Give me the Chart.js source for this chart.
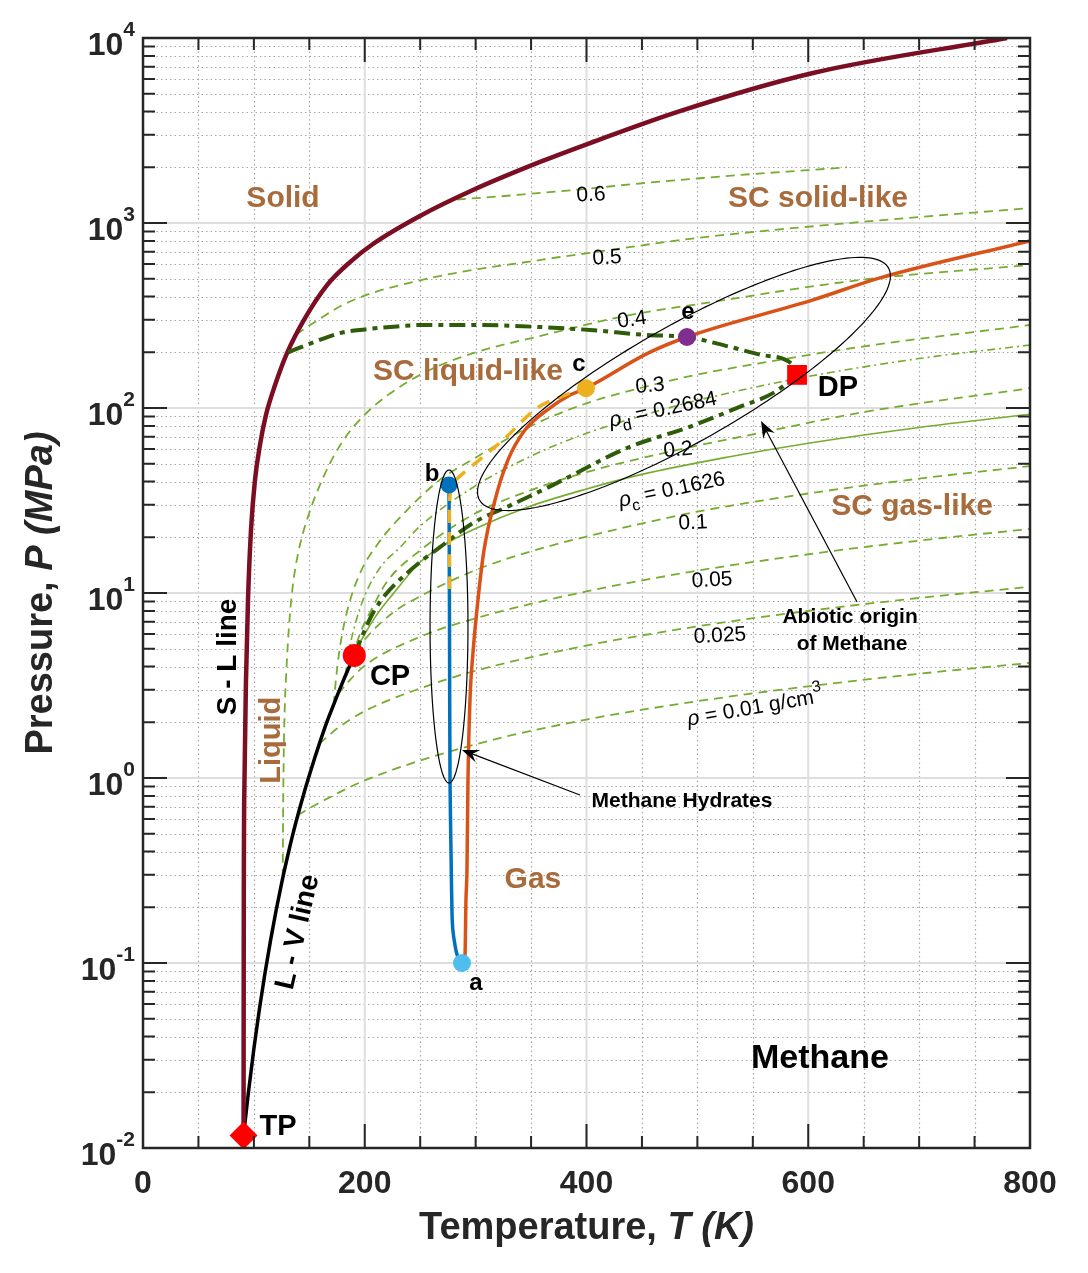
<!DOCTYPE html>
<html>
<head>
<meta charset="utf-8">
<script src="https://cdn.jsdelivr.net/npm/chart.js@4.4.1/dist/chart.umd.min.js"></script>
<style>
  html, body { margin: 0; padding: 0; background: #fff; }
  #wrap { width: 1088px; height: 1273px; }
</style>
</head>
<body>
<div id="wrap"><canvas id="phase" width="1088" height="1273"></canvas></div>
<script>
// Methane P-T diagram. T in K, P in MPa

// axis ticks
const xMajor = [0, 200, 400, 600, 800];
const xMinor = [50, 100, 150, 250, 300, 350, 450, 500, 550, 650, 700, 750];
const yExp = [-2, -1, 0, 1, 2, 3, 4];
const yMinorMant = [2, 3, 4, 5, 6, 7, 8, 9];

// S - L (melting) line
const meltT = [90.69, 90.91, 91.54, 92.9, 94.7, 97.4, 101.0, 105.5, 110.9, 119.1, 129.9, 146.1, 166.0, 186.7, 207.4, 249.8, 297.6, 358.1, 403.2, 484.3, 604.3, 779.3];
const meltP = [0.01169, 0.219, 0.975, 3.39, 9.16, 21.9, 40.8, 63.1, 91.6, 133, 198, 306, 462, 615, 770, 1091, 1507, 2138, 2706, 4027, 6470, 10000];

// L - V (saturation) line, TP -> CP
const satT = [90.69, 95, 100, 105, 110, 115, 120, 125, 130, 135, 140, 145, 150, 155, 160, 165, 170, 175, 180, 185, 190.56];
const satP = [0.01169, 0.0198, 0.0344, 0.0564, 0.0881, 0.1321, 0.1915, 0.2693, 0.3683, 0.4924, 0.6412, 0.8205, 1.0335, 1.29, 1.592, 1.945, 2.329, 2.77, 3.287, 3.863, 4.599];

// isochores (g/cm3)
const iso06T = [283, 320, 350, 388, 450, 500, 550, 600, 635];
const iso06P = [1340, 1390, 1440, 1507, 1640, 1740, 1840, 1930, 2000];
const iso05T = [138, 160, 180, 207, 250, 297, 350, 376, 403, 500, 647, 800];
const iso05P = [250, 305, 360, 419, 490, 557, 620, 655, 690, 830, 1012, 1205];
const iso04T = [126, 126.5, 127.5, 129, 132, 135, 140, 148, 164, 180, 200, 223, 260, 298, 358, 439, 508, 647, 800];
const iso04P = [0.29, 0.8, 2, 3.5, 7, 10.8, 16.5, 25, 44, 66, 92, 120, 162, 198, 245, 318, 370, 492, 593];
const iso03T = [172, 174, 177, 183, 195, 212, 238, 268, 298, 350, 400, 457, 496, 550, 647, 800];
const iso03P = [2.49, 3.4, 4.8, 7.5, 12.5, 18.5, 28, 41, 53, 80, 106, 132, 150, 172, 214, 281];
const isoDT = [182.5, 184, 187, 192, 200, 215, 232, 250, 300, 350, 400, 466, 500, 600, 700, 800];
const isoDP = [3.57, 4.2, 5.3, 7, 9.7, 14, 17.7, 23, 38, 55, 73, 97, 110, 148, 185, 219];
const iso02T = [189, 190.5, 193, 197, 205, 220, 250, 300, 350, 400, 482, 550, 650, 800];
const iso02P = [4.45, 4.8, 5.4, 6.3, 7.9, 11.5, 17, 27, 36, 45, 59.3, 72, 95, 128];
const isoCT = [190.56, 195, 200, 210, 225, 250, 268, 300, 346, 400, 448, 529, 600, 700, 800];
const isoCP = [4.6, 5.3, 6.0, 7.5, 9.8, 14.7, 17.7, 22.3, 29, 36.5, 43.5, 54.5, 64.5, 78.5, 92.6];
const iso01T = [186.5, 190, 200, 225, 250, 300, 350, 412, 500, 600, 700, 800];
const iso01P = [4.07, 4.6, 5.6, 7.8, 9.6, 13.3, 16.8, 21, 27.5, 34.5, 41.5, 48.5];
const iso005T = [176, 185, 200, 250, 300, 400, 500, 600, 700, 800];
const iso005P = [2.85, 3.3, 4.05, 5.8, 7.3, 10.2, 13.2, 16.2, 19.2, 22.2];
const iso0025T = [159, 175, 200, 250, 300, 400, 500, 600, 700, 800];
const iso0025P = [1.53, 1.85, 2.3, 3.05, 3.8, 5.2, 6.6, 8.0, 9.4, 10.8];
const iso001T = [139.5, 160, 200, 300, 400, 500, 600, 700, 800];
const iso001P = [0.63, 0.74, 0.97, 1.52, 2.07, 2.6, 3.13, 3.66, 4.19];

// dark green boundary lines, both ending at DP
const lowT = [190.56, 200, 207.4, 220, 238.1, 253, 267.9, 297.6, 330, 370, 436.5, 492.4, 537.5, 570, 589.9];
const lowP = [4.6, 6.3, 7.8, 10, 12.8, 15.2, 17.7, 23.9, 29.5, 38.4, 60.8, 78.9, 101, 122, 151];
const upT = [131, 150, 177.7, 200, 222.8, 252.5, 297.6, 358.1, 403.2, 454.6, 490.6, 529.4, 559.2, 586.2, 589.9];
const upP = [200, 222, 254, 266, 274, 281, 281, 274, 264, 248, 242, 214, 193, 171, 151];

// paths a -> b (blue), b -> c (yellow), a -> c -> e (orange)
const pathAT = [287.7, 283.5, 281.4, 279.5, 278.7, 277.8, 276.9, 276.4, 276];
const pathAP = [0.1, 0.11, 0.125, 0.15, 0.186, 0.4, 0.975, 8, 38.4];
const pathBT = [276.6, 276.6, 279, 284.1, 324.7, 355.4, 380.6, 399.5];
const pathBP = [10.5, 32, 38, 41.9, 67.1, 100, 117.5, 128];
const pathCT = [287.7, 290.4, 291.3, 292.2, 293.1, 294.9, 297.6, 302.1, 307.6, 317.5, 329.2, 344.5, 364.4, 385.1, 399.5, 455.5, 490.6, 604.3, 664.7, 800];
const pathCP = [0.1, 0.11, 0.22, 0.32, 0.975, 2.64, 4.74, 9.16, 17.1, 31.8, 52.4, 76.0, 97.5, 117.5, 128, 198, 242, 384, 505, 800];

// special points
const tp = [90.69, 0.01169];
const cp = [190.56, 4.599];
const dp = [589.9, 151];
const ptA = [287.7, 0.1];
const ptB = [276, 38.4];
const ptC = [399.5, 128];
const ptE = [490.6, 242];

const FONT = "'Liberation Sans', Arial, Helvetica, sans-serif";
const BROWN = '#A86B3C';
const GREEN = '#77AC30';
const DARKGREEN = '#2E5C08';

function pts(T, P) {
  return T.map((t, i) => ({ x: t, y: P[i] }));
}

// smooth = monotone cubic along T, otherwise plain bezier tension
function curve(T, P, color, width, dash, order, smooth) {
  return {
    data: pts(T, P), showLine: true, borderColor: color, borderWidth: width,
    borderDash: dash || [], pointRadius: 0, pointHoverRadius: 0,
    tension: 0.3, cubicInterpolationMode: smooth === false ? 'default' : 'monotone',
    fill: false, order: order
  };
}

function marker(p, color, style, r) {
  return {
    data: [{ x: p[0], y: p[1] }], showLine: false, pointStyle: style, pointRadius: r,
    pointHoverRadius: r, pointBackgroundColor: color, pointBorderColor: color,
    pointBorderWidth: 0, order: 0
  };
}

// text annotations (T, P anchor, size px, rotation deg)
const notes = [
  { t: 'Solid', T: 126.3, P: 1349, size: 30, color: BROWN, bold: true },
  { t: 'SC solid-like', T: 608.8, P: 1349, size: 30, color: BROWN, bold: true },
  { t: 'SC liquid-like', T: 293.1, P: 156.6, size: 30, color: BROWN, bold: true },
  { t: 'SC gas-like', T: 693.6, P: 29.2, size: 30, color: BROWN, bold: true },
  { t: 'Liquid', T: 116.3, P: 1.6, size: 29, color: BROWN, bold: true, rot: -90 },
  { t: 'Gas', T: 351.7, P: 0.281, size: 30, color: BROWN, bold: true },
  { t: 'S - L line', T: 76.7, P: 4.51, size: 28, color: '#000', bold: true, rot: -90 },
  { t: 'L - V line', T: 139.8, P: 0.147, size: 28, color: '#000', bold: true, rot: -77 },
  { t: 'CP', T: 222.8, P: 3.52, size: 29, color: '#000', bold: true },
  { t: 'TP', T: 121.8, P: 0.013, size: 29, color: '#000', bold: true },
  { t: 'DP', T: 626.8, P: 128, size: 29, color: '#000', bold: true },
  { t: 'Methane', T: 610.6, P: 0.0306, size: 34, color: '#000', bold: true },
  { t: 'a', T: 300.3, P: 0.078, size: 24, color: '#000', bold: true },
  { t: 'b', T: 260.7, P: 44, size: 24, color: '#000', bold: true },
  { t: 'c', T: 393.2, P: 173, size: 24, color: '#000', bold: true },
  { t: 'e', T: 491.5, P: 330, size: 24, color: '#000', bold: true },
  { t: '0.6', T: 404, P: 1416, size: 21, color: '#000', rot: -3 },
  { t: '0.5', T: 418.5, P: 647, size: 21, color: '#000', rot: -3 },
  { t: '0.4', T: 441, P: 299, size: 21, color: '#000', rot: -8 },
  { t: '0.3', T: 457.3, P: 131.5, size: 21, color: '#000', rot: -5 },
  { t: '0.2', T: 482.5, P: 59.3, size: 21, color: '#000', rot: -5 },
  { t: '0.1', T: 496, P: 23.9, size: 21, color: '#000', rot: -3 },
  { t: '0.05', T: 513.2, P: 11.7, size: 21, color: '#000', rot: -3 },
  { t: '0.025', T: 520.4, P: 5.86, size: 21, color: '#000', rot: -3 },
  { t: 'Methane Hydrates', T: 486.1, P: 0.751, size: 21, color: '#000', bold: true },
  { t: 'Abiotic origin', T: 637.7, P: 7.41, size: 21, color: '#000', bold: true },
  { t: 'of Methane', T: 639.5, P: 5.3, size: 21, color: '#000', bold: true }
];

// labels with sub/superscripts
const richNotes = [
  { T: 469, P: 97.5, rot: -12, parts: [['ρ', 'italic 21px', 0], ['d', '16px', 8], [' = 0.2684', '21px', 0]] },
  { T: 477, P: 36, rot: -12, parts: [['ρ', 'italic 21px', 0], ['c', '16px', 8], [' = 0.1626', '21px', 0]] },
  { T: 552, P: 2.39, rot: -10, parts: [['ρ', 'italic 21px', 0], [' = 0.01 g/cm', '21px', 0], ['3', '16px', -10]] }
];

// arrows: tail -> head
const arrows = [
  { T0: 394.1, P0: 0.809, T1: 287.7, P1: 1.417 },
  { T0: 644, P0: 8.94, T1: 557.4, P1: 85.1 }
];

// ellipses in (T, log10 P): centre, two half-axis vectors
const loops = [
  { T: 487.9, L: 2.130, uT: 184.4, uL: 0.6275, vT: 25.84, vL: -0.2728 },
  { T: 276.0, L: 0.819, uT: 0, uL: 0.846, vT: 17.1, vL: 0 }
];

function drawParts(ctx, parts, x, y, rot, align) {
  ctx.save();
  ctx.translate(x, y);
  ctx.rotate((rot || 0) * Math.PI / 180);
  ctx.textBaseline = 'middle';
  ctx.textAlign = 'left';
  let total = 0;
  parts.forEach(p => { ctx.font = p.font; p.w = ctx.measureText(p.t).width; total += p.w; });
  let cx = align === 'right' ? -total : align === 'left' ? 0 : -total / 2;
  parts.forEach(p => {
    ctx.font = p.font;
    ctx.fillStyle = p.color || '#000';
    ctx.fillText(p.t, cx, p.dy || 0);
    cx += p.w;
  });
  ctx.restore();
}

const decor = {
  id: 'decor',
  beforeDatasetsDraw(chart) {
    const { ctx, chartArea: a, scales: { x, y } } = chart;
    ctx.save();
    // minor grid, dotted
    ctx.strokeStyle = '#a8a8a8';
    ctx.lineWidth = 1.2;
    ctx.setLineDash([1.5, 3]);
    ctx.beginPath();
    xMinor.forEach(v => { const p = Math.round(x.getPixelForValue(v)) + 0.5; ctx.moveTo(p, a.top); ctx.lineTo(p, a.bottom); });
    yExp.slice(0, -1).forEach(e => yMinorMant.forEach(m => {
      const p = Math.round(y.getPixelForValue(m * Math.pow(10, e))) + 0.5;
      ctx.moveTo(a.left, p); ctx.lineTo(a.right, p);
    }));
    ctx.stroke();
    // major grid
    ctx.setLineDash([]);
    ctx.strokeStyle = '#dedede';
    ctx.lineWidth = 2;
    ctx.beginPath();
    xMajor.forEach(v => { const p = x.getPixelForValue(v); ctx.moveTo(p, a.top); ctx.lineTo(p, a.bottom); });
    yExp.forEach(e => { const p = y.getPixelForValue(Math.pow(10, e)); ctx.moveTo(a.left, p); ctx.lineTo(a.right, p); });
    ctx.stroke();
    ctx.restore();
  },
  afterDatasetsDraw(chart) {
    const { ctx, scales: { x, y } } = chart;
    ctx.save();
    // ellipses
    ctx.strokeStyle = '#000';
    ctx.lineWidth = 1.2;
    loops.forEach(o => {
      ctx.beginPath();
      for (let k = 0; k <= 180; k++) {
        const t = k / 180 * 2 * Math.PI;
        const T = o.T + o.uT * Math.cos(t) + o.vT * Math.sin(t);
        const L = o.L + o.uL * Math.cos(t) + o.vL * Math.sin(t);
        const X = x.getPixelForValue(T), Y = y.getPixelForValue(Math.pow(10, L));
        if (k === 0) ctx.moveTo(X, Y); else ctx.lineTo(X, Y);
      }
      ctx.stroke();
    });
    // arrows
    arrows.forEach(r => {
      const x0 = x.getPixelForValue(r.T0), y0 = y.getPixelForValue(r.P0);
      const x1 = x.getPixelForValue(r.T1), y1 = y.getPixelForValue(r.P1);
      const ang = Math.atan2(y1 - y0, x1 - x0);
      ctx.strokeStyle = '#000';
      ctx.lineWidth = 1.2;
      ctx.beginPath();
      ctx.moveTo(x0, y0);
      ctx.lineTo(x1 - 8 * Math.cos(ang), y1 - 8 * Math.sin(ang));
      ctx.stroke();
      ctx.save();
      ctx.translate(x1, y1);
      ctx.rotate(ang);
      ctx.fillStyle = '#000';
      ctx.beginPath();
      ctx.moveTo(0, 0);
      ctx.lineTo(-17, -6.5);
      ctx.lineTo(-11, 0);
      ctx.lineTo(-17, 6.5);
      ctx.closePath();
      ctx.fill();
      ctx.restore();
    });
    // text notes
    notes.forEach(n => {
      const f = (n.bold ? 'bold ' : '') + n.size + 'px ' + FONT;
      drawParts(ctx, [{ t: n.t, font: f, color: n.color }], x.getPixelForValue(n.T), y.getPixelForValue(n.P), n.rot || 0);
    });
    richNotes.forEach(n => {
      const parts = n.parts.map(p => ({ t: p[0], font: p[1] + ' ' + FONT, dy: p[2], color: '#000' }));
      drawParts(ctx, parts, x.getPixelForValue(n.T), y.getPixelForValue(n.P), n.rot);
    });
    ctx.restore();
  },
  afterDraw(chart) {
    const { ctx, chartArea: a, scales: { x, y } } = chart;
    ctx.save();
    // frame
    ctx.strokeStyle = '#262626';
    ctx.lineWidth = 2.5;
    ctx.strokeRect(a.left, a.top, a.right - a.left, a.bottom - a.top);
    // inward ticks
    const maj = 24, mnr = 12;
    ctx.lineWidth = 2;
    ctx.beginPath();
    const xt = (v, len) => {
      const p = x.getPixelForValue(v);
      ctx.moveTo(p, a.bottom); ctx.lineTo(p, a.bottom - len);
      ctx.moveTo(p, a.top); ctx.lineTo(p, a.top + len);
    };
    const yt = (v, len) => {
      const p = y.getPixelForValue(v);
      ctx.moveTo(a.left, p); ctx.lineTo(a.left + len, p);
      ctx.moveTo(a.right, p); ctx.lineTo(a.right - len, p);
    };
    xMajor.forEach(v => xt(v, maj));
    xMinor.forEach(v => xt(v, mnr));
    yExp.forEach(e => yt(Math.pow(10, e), maj));
    yExp.slice(0, -1).forEach(e => yMinorMant.forEach(m => yt(m * Math.pow(10, e), mnr)));
    ctx.stroke();
    // tick labels
    const tf = 'bold 32px ' + FONT;
    xMajor.forEach(v => {
      drawParts(ctx, [{ t: String(v), font: tf, color: '#262626' }], x.getPixelForValue(v), a.bottom + 36, 0);
    });
    yExp.forEach(e => {
      drawParts(ctx, [
        { t: '10', font: tf, color: '#262626' },
        { t: String(e), font: 'bold 21px ' + FONT, color: '#262626', dy: -16 }
      ], a.left - 8, y.getPixelForValue(Math.pow(10, e)) + 8, 0, 'right');
    });
    // axis titles
    drawParts(ctx, [
      { t: 'Temperature, ', font: 'bold 38px ' + FONT, color: '#262626' },
      { t: 'T (K)', font: 'italic bold 38px ' + FONT, color: '#262626' }
    ], (a.left + a.right) / 2, a.bottom + 81, 0);
    drawParts(ctx, [
      { t: 'Pressure, ', font: 'bold 38px ' + FONT, color: '#262626' },
      { t: 'P (MPa)', font: 'italic bold 38px ' + FONT, color: '#262626' }
    ], 42, (a.top + a.bottom) / 2, -90);
    ctx.restore();
  }
};

const chart = new Chart(document.getElementById('phase'), {
  type: 'scatter',
  data: {
    datasets: [
      marker(tp, '#FF0000', 'rectRot', 14),
      marker(cp, '#FF0000', 'circle', 11.5),
      marker(dp, '#FF0000', 'rect', 14),
      marker(ptA, '#4DBEEE', 'circle', 9),
      marker(ptB, '#0072BD', 'circle', 8.5),
      marker(ptC, '#EDB120', 'circle', 9),
      marker(ptE, '#7E2F8E', 'circle', 9),
      curve(pathBT, pathBP, '#EDB120', 3.5, [13, 9], 1, false),
      curve(pathAT, pathAP, '#0072BD', 3.5, null, 2, false),
      curve(pathCT, pathCP, '#D95319', 3.5, null, 2),
      curve(upT, upP, DARKGREEN, 4, [16, 6, 5, 6], 3),
      curve(lowT, lowP, DARKGREEN, 4, [16, 6, 5, 6], 3),
      curve(meltT, meltP, '#7B0E22', 4.5, null, 3),
      curve(satT, satP, '#000000', 3.5, null, 3),
      curve(iso06T, iso06P, GREEN, 1.8, [9, 6], 5),
      curve(iso05T, iso05P, GREEN, 1.8, [9, 6], 5),
      curve(iso04T, iso04P, GREEN, 1.8, [9, 6], 5),
      curve(iso03T, iso03P, GREEN, 1.8, [9, 6], 5),
      curve(isoDT, isoDP, GREEN, 1.6, [8, 4, 2, 4], 5),
      curve(iso02T, iso02P, GREEN, 1.8, [9, 6], 5),
      curve(isoCT, isoCP, GREEN, 1.6, null, 5),
      curve(iso01T, iso01P, GREEN, 1.8, [9, 6], 5),
      curve(iso005T, iso005P, GREEN, 1.8, [9, 6], 5),
      curve(iso0025T, iso0025P, GREEN, 1.8, [9, 6], 5),
      curve(iso001T, iso001P, GREEN, 1.8, [9, 6], 5)
    ]
  },
  options: {
    responsive: false,
    animation: false,
    events: [],
    layout: { padding: { left: 143, right: 58, top: 38, bottom: 125 } },
    scales: {
      x: { type: 'linear', min: 0, max: 800, display: false },
      y: { type: 'logarithmic', min: 0.01, max: 10000, display: false }
    },
    plugins: { legend: { display: false }, tooltip: { enabled: false } }
  },
  plugins: [decor]
});
</script>
</body>
</html>
